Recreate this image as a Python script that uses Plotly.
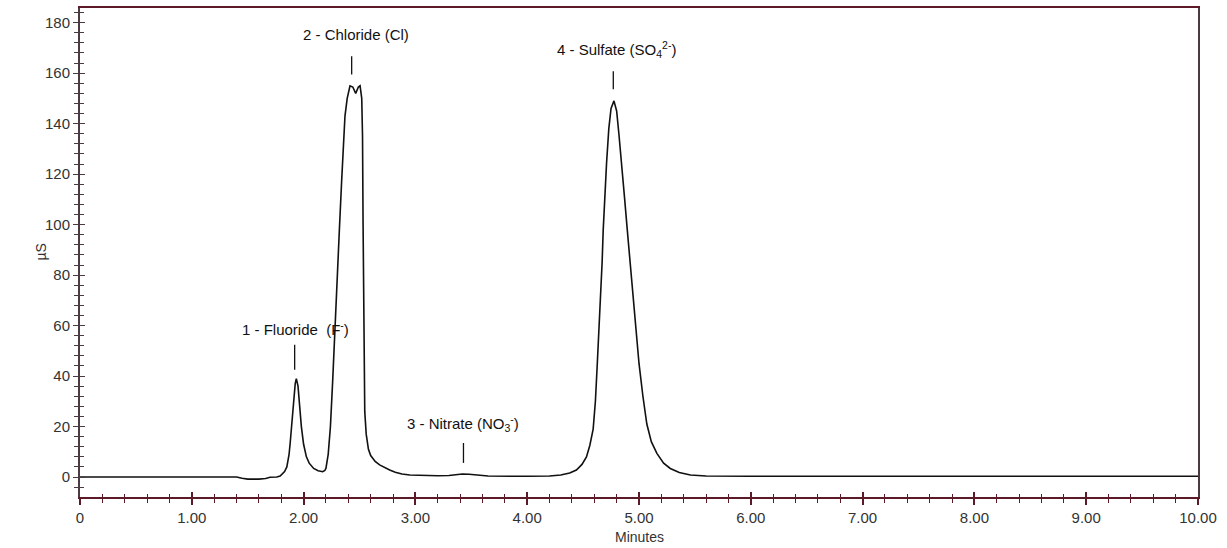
import plotly.graph_objects as go

# ---- chromatogram trace ----
time_min = [0.00, 1.40, 1.45, 1.50, 1.60, 1.66, 1.70, 1.76, 1.79, 1.81, 1.83, 1.85, 1.87, 1.88,
            1.90, 1.91, 1.925, 1.935, 1.95, 1.965, 1.98, 2.00, 2.025, 2.05, 2.09, 2.13, 2.17,
            2.19, 2.20, 2.22, 2.24, 2.26, 2.28, 2.30, 2.32, 2.34, 2.36, 2.37, 2.39, 2.415, 2.44,
            2.466, 2.49, 2.505, 2.52, 2.527, 2.532, 2.536, 2.54, 2.547, 2.56, 2.58, 2.60, 2.64,
            2.68, 2.72, 2.77, 2.82, 2.88, 2.95, 3.05, 3.20, 3.30, 3.36, 3.42, 3.48, 3.55, 3.65,
            4.00, 4.20, 4.30, 4.38, 4.44, 4.49, 4.53, 4.56, 4.59, 4.61, 4.627, 4.645, 4.657, 4.67,
            4.68, 4.695, 4.71, 4.73, 4.75, 4.776, 4.80, 4.82, 4.845, 4.87, 4.895, 4.92, 4.95,
            4.975, 5.00, 5.035, 5.07, 5.11, 5.16, 5.22, 5.28, 5.36, 5.46, 5.60, 6.00, 10.00]
signal_us = [0.0, 0.0, -0.5, -0.8, -0.8, -0.6, -0.1, 0.0, 0.4, 1.2, 2.2, 4.0, 9.0, 13.5,
             25.0, 31.0, 37.0, 39.0, 36.0, 28.0, 20.0, 13.0, 8.0, 5.5, 3.4, 2.5, 2.1,
             2.6, 3.5, 9.0, 20.0, 38.0, 60.0, 78.0, 98.0, 117.0, 134.0, 143.0, 150.0, 155.0, 154.5,
             152.0, 154.5, 155.0, 150.0, 135.0, 100.0, 65.0, 40.0, 26.0, 17.0, 11.0, 8.5, 6.2,
             4.8, 3.8, 2.8, 1.9, 1.2, 0.8, 0.6, 0.5, 0.6, 0.9, 1.2, 1.1, 0.7, 0.4,
             0.3, 0.4, 0.8, 1.6, 2.8, 5.0, 8.0, 12.5, 19.0, 30.0, 45.0, 60.0, 71.5, 85.0,
             98.0, 112.0, 124.5, 138.0, 146.0, 149.0, 145.0, 136.0, 124.5, 111.0, 98.0, 85.0, 71.5,
             58.0, 45.0, 32.0, 21.0, 14.0, 9.4, 5.5, 3.4, 1.8, 0.8, 0.4, 0.3, 0.3]

# ---- peak labels ----
peak_labels = ["1 - Fluoride&nbsp;&nbsp;(F<sup>-</sup>)", "2 - Chloride (Cl)",
               "3 - Nitrate (NO<sub>3</sub><sup>-</sup>)", "4 - Sulfate (SO<sub>4</sub><sup>2-</sup>)"]
peak_times = [1.92, 2.43, 3.43, 4.77]
label_x = [1.93, 2.47, 3.43, 4.80]
label_y = [59.0, 175.4, 21.4, 169.4]
marker_lo = [42.5, 159.5, 5.6, 153.6]
marker_hi = [52.4, 166.7, 13.5, 160.7]

# ---- axes ----
x_tick_vals = [0, 1, 2, 3, 4, 5, 6, 7, 8, 9, 10]
x_tick_text = ["0", "1.00", "2.00", "3.00", "4.00", "5.00", "6.00", "7.00", "8.00", "9.00", "10.00"]
y_tick_vals = [0, 20, 40, 60, 80, 100, 120, 140, 160, 180]
x_range = [0, 10]
y_range = [-7.9, 185.8]
x_title = "Minutes"
y_title = "µS"

FONT = "Liberation Sans, Arial, sans-serif"
XCOL = "#5c1a28"
YCOL = "#4a3a42"

fig = go.Figure()
fig.add_trace(go.Scatter(x=time_min, y=signal_us, mode="lines",
                         line=dict(color="#111111", width=1.6), showlegend=False, hoverinfo="skip"))

mx, my = [], []
for t, lo, hi in zip(peak_times, marker_lo, marker_hi):
    mx += [t, t, None]
    my += [lo, hi, None]
fig.add_trace(go.Scatter(x=mx, y=my, mode="lines", line=dict(color="#111111", width=1.3),
                         showlegend=False, hoverinfo="skip"))

# dummy trace for overlay axes (ticks on the other side of the spines)
fig.add_trace(go.Scatter(x=[None], y=[None], xaxis="x2", yaxis="y2", showlegend=False))

for txt, lx, ly in zip(peak_labels, label_x, label_y):
    fig.add_annotation(x=lx, y=ly, text=txt, showarrow=False,
                       font=dict(family=FONT, size=15, color="#111111"))

# axis titles as annotations so they sit where the reference has them
fig.add_annotation(xref="paper", yref="paper", x=0, y=0.5, xshift=-40, xanchor="center",
                   text=y_title, textangle=-90, showarrow=False,
                   font=dict(family=FONT, size=14, color="#333333"))
fig.add_annotation(xref="paper", yref="paper", x=0.5, y=0, yshift=-40, yanchor="middle",
                   text=x_title, showarrow=False,
                   font=dict(family=FONT, size=14, color="#333333"))

tickfont = dict(family=FONT, size=15, color="#333333")

fig.update_layout(
    width=1227, height=548,
    margin=dict(l=80, r=29, t=8, b=51),
    paper_bgcolor="white", plot_bgcolor="white",
    xaxis=dict(range=x_range, tickmode="array", tickvals=x_tick_vals, ticktext=x_tick_text,
               ticks="outside", ticklen=6, tickwidth=1.5, tickcolor=XCOL,
               minor=dict(tickmode="linear", tick0=0, dtick=0.2, ticks="outside", ticklen=4,
                          tickwidth=1.2, tickcolor=XCOL),
               showline=True, linecolor=XCOL, linewidth=2, mirror=True,
               showgrid=False, zeroline=False, tickfont=tickfont, automargin=False),
    yaxis=dict(range=y_range, tickmode="array", tickvals=y_tick_vals,
               ticks="outside", ticklen=5, tickwidth=1.3, tickcolor=YCOL,
               minor=dict(tickmode="linear", tick0=0, dtick=4, ticks="outside", ticklen=4,
                          tickwidth=1.1, tickcolor=YCOL),
               showline=True, linecolor=YCOL, linewidth=2, mirror=True,
               showgrid=False, zeroline=False, tickfont=tickfont, automargin=False),
    xaxis2=dict(range=x_range, overlaying="x", anchor="y2", side="bottom",
                tickmode="array", tickvals=x_tick_vals, showticklabels=False,
                ticks="inside", ticklen=5, tickwidth=1.5, tickcolor=XCOL,
                minor=dict(tickmode="linear", tick0=0, dtick=0.2, ticks="inside", ticklen=3,
                           tickwidth=1.2, tickcolor=XCOL),
                showline=False, showgrid=False, zeroline=False),
    yaxis2=dict(range=y_range, overlaying="y", anchor="x2", side="left",
                tickmode="array", tickvals=y_tick_vals, showticklabels=False,
                ticks="inside", ticklen=5, tickwidth=1.3, tickcolor=YCOL,
                minor=dict(tickmode="linear", tick0=0, dtick=4, ticks="inside", ticklen=4,
                           tickwidth=1.1, tickcolor=YCOL),
                showline=False, showgrid=False, zeroline=False),
)

fig.write_html("out.html")
